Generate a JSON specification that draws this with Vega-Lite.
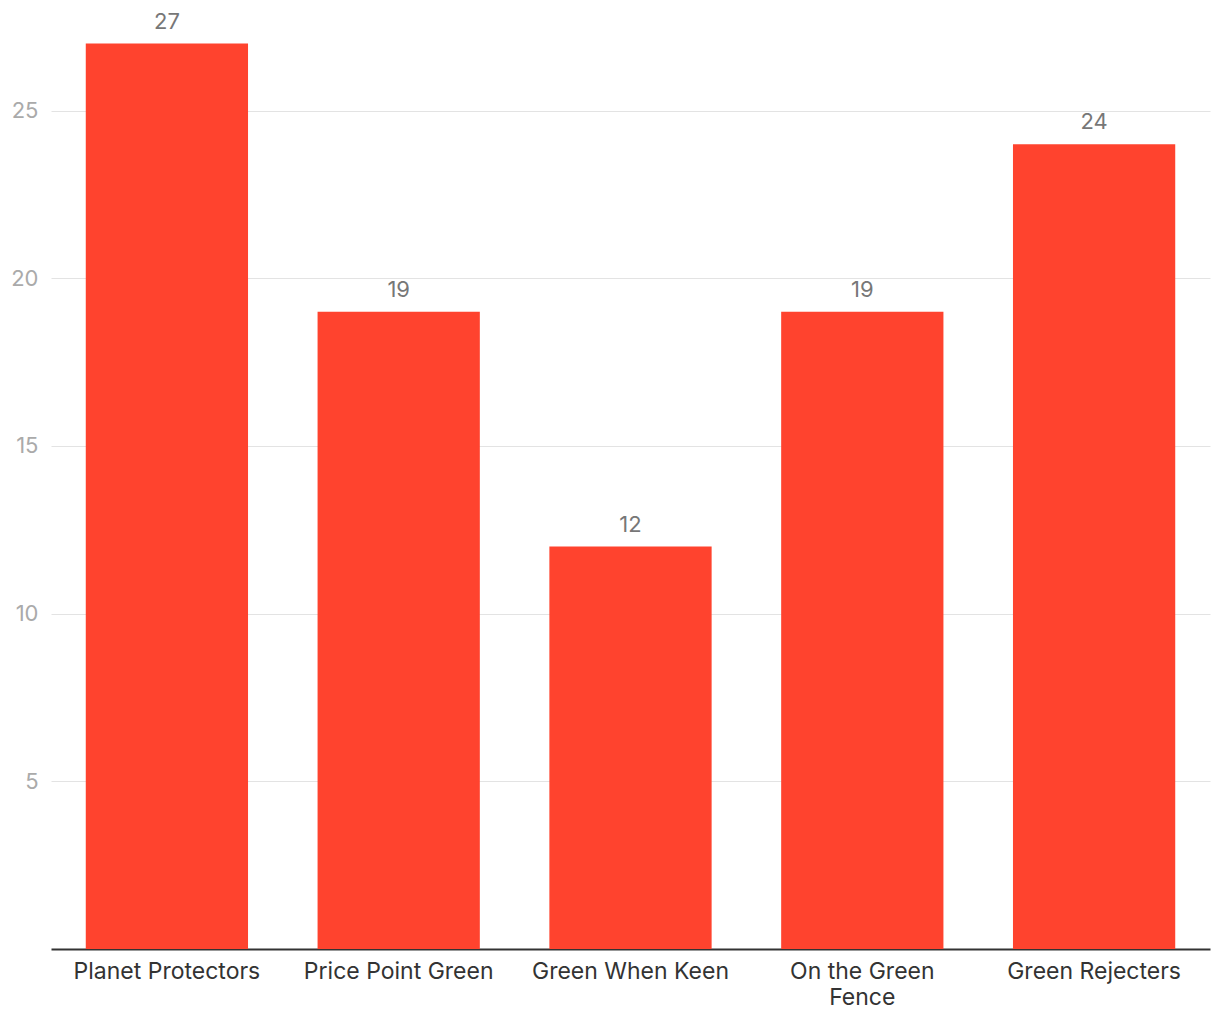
{
  "$schema": "https://vega.github.io/schema/vega-lite/v6.json",
  "width": 1159,
  "height": 939,
  "autosize": {"type": "none"},
  "padding": {"left": 51, "top": 10, "right": 10, "bottom": 71},
  "background": "white",
  "config": {"view": {"stroke": null}, "font": "Inter"},
  "data": {"values": [
    {"segment": "Planet Protectors", "value": 27},
    {"segment": "Price Point Green", "value": 19},
    {"segment": "Green When Keen", "value": 12},
    {"segment": "On the Green Fence", "value": 19},
    {"segment": "Green Rejecters", "value": 24}
  ]},
  "encoding": {
    "x": {"field": "segment", "type": "nominal", "sort": null,
      "scale": {"paddingInner": 0.3, "paddingOuter": 0.15},
      "axis": {"title": null, "labelAngle": 0, "ticks": false, "domainColor": "#333", "domainWidth": 2,
        "labelFont": "Inter", "labelFontSize": 23, "labelColor": "#333", "labelPadding": 11,
        "labelLimit": 0, "labelOverlap": false,
        "labelExpr": "datum.label == 'On the Green Fence' ? ['On the Green', 'Fence'] : datum.label",
        "labelLineHeight": 26}},
    "y": {"field": "value", "type": "quantitative",
      "scale": {"domain": [0, 28], "nice": false},
      "axis": {"title": null, "values": [5, 10, 15, 20, 25], "domain": false, "ticks": false,
        "gridColor": "#e3e3e3", "gridWidth": 1, "labelFont": "Inter", "labelFontSize": 22,
        "labelColor": "#aaa", "labelPadding": 13}}
  },
  "layer": [
    {"mark": {"type": "bar", "color": "#ff432e"}},
    {"mark": {"type": "text", "baseline": "bottom", "dy": -10, "font": "Inter", "fontSize": 22, "color": "#777"},
     "encoding": {"text": {"field": "value", "type": "quantitative"}}}
  ]
}
